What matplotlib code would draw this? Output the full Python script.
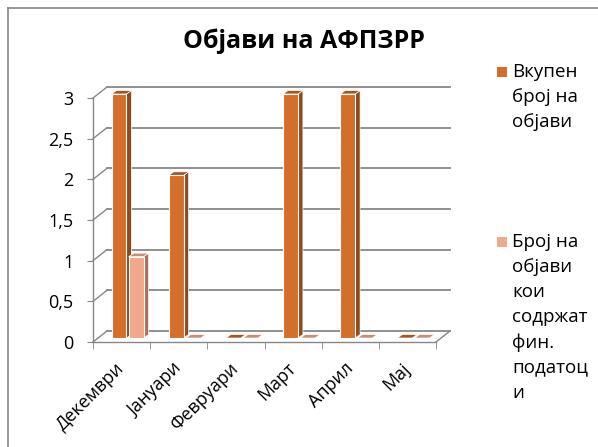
import numpy as np
import matplotlib
matplotlib.use("Agg")
import matplotlib.pyplot as plt
from matplotlib.patches import Polygon, Rectangle
from matplotlib.lines import Line2D

months = ["Декември", "Јануари", "Февруари", "Март", "Април", "Мај"]
total_posts = [3, 2, 0, 3, 3, 0]
fin_posts = [1, 0, 0, 0, 0, 0]
series_labels = ["Вкупен\nброј на\nобјави",
                 "Број на\nобјави\nкои\nсодржат\nфин.\nподатоц\nи"]
y_ticks = [0, 0.5, 1, 1.5, 2, 2.5, 3]
y_tick_labels = ["0", "0,5", "1", "1,5", "2", "2,5", "3"]
title = "Објави на АФПЗРР"

plt.rcParams["font.family"] = ["Open Sans", "DejaVu Sans"]

W, H = 598, 447
fig = plt.figure(figsize=(W / 100, H / 100), dpi=100)
ax = fig.add_axes([93 / W, 105 / H, 343 / W, 244 / H])
ax.set_xlim(-0.5, 5.5)
ax.set_ylim(0, 3)

# pixel -> data units, used for the fake 3d depth
ux = 6 / 343
uy = 3 / 244
wall_dx, wall_dy = 14 * ux, 11 * uy
shift_dx, shift_dy = 6 * ux, 4 * uy
bar_dx, bar_dy = 5 * ux, 3.5 * uy

grid_col = "#878787"

# back wall gridlines + left wall diagonals + floor
for v in y_ticks:
    ax.plot([-0.5 + wall_dx, 5.5 + wall_dx], [v + wall_dy, v + wall_dy],
            color=grid_col, lw=1.3, zorder=1, clip_on=False)
    ax.plot([-0.5, -0.5 + wall_dx], [v, v + wall_dy],
            color=grid_col, lw=1.0, zorder=1, clip_on=False)
ax.plot([5.5, 5.5 + wall_dx], [0, wall_dy], color=grid_col, lw=1.0,
        zorder=1, clip_on=False)

bar_w = 0.26
series = [
    (total_posts, -0.15, ("#D46E2B", "#8E4A1C", "#A9541E")),
    (fin_posts, 0.15, ("#F2A98B", "#A8705C", "#C98B73")),
]
for vals, off, (c_front, c_side, c_top) in series:
    for i, v in enumerate(vals):
        x0 = i + off - bar_w / 2 + shift_dx
        y0 = shift_dy
        x1 = x0 + bar_w
        y1 = y0 + v
        ax.add_patch(Polygon([(x1, y0), (x1 + bar_dx, y0 + bar_dy),
                              (x1 + bar_dx, y1 + bar_dy), (x1, y1)],
                             closed=True, fc=c_side, ec="white", lw=0.5,
                             zorder=3, clip_on=False))
        ax.add_patch(Polygon([(x0, y1), (x1, y1), (x1 + bar_dx, y1 + bar_dy),
                              (x0 + bar_dx, y1 + bar_dy)],
                             closed=True, fc=c_top, ec="white", lw=0.5,
                             zorder=3, clip_on=False))
        if v > 0:
            ax.add_patch(Rectangle((x0, y0), bar_w, v, fc=c_front,
                                   ec="white", lw=0.8, zorder=4,
                                   clip_on=False))

for side in ["top", "right"]:
    ax.spines[side].set_visible(False)
for side in ["left", "bottom"]:
    ax.spines[side].set_color(grid_col)
    ax.spines[side].set_linewidth(1.0)

ax.set_yticks(y_ticks)
ax.set_yticklabels(y_tick_labels, fontsize=13)
ax.tick_params(axis="y", length=4, color=grid_col, pad=10)
ax.set_xticks(range(len(months)))
ax.set_xticklabels(months, fontsize=13, rotation=45, ha="right",
                   va="center", rotation_mode="anchor")
ax.tick_params(axis="x", which="major", length=0, pad=17)
ax.set_xticks(np.arange(-0.5, 6), minor=True)
ax.tick_params(axis="x", which="minor", length=5, color=grid_col)
ax.patch.set_visible(False)

fig.text(304 / W, 1 - 41 / H, title, ha="center", va="center",
         fontsize=18, fontweight="bold")

# legend
leg_cols = ["#D46E2B", "#F2A98B"]
leg_centers = [72, 242]
for lab, col, yc in zip(series_labels, leg_cols, leg_centers):
    fig.patches.append(Rectangle((497 / W, 1 - (yc + 5) / H), 10 / W, 10 / H,
                                 transform=fig.transFigure, fc=col, ec="none"))
    fig.text(512 / W, 1 - (yc - 9) / H, lab, ha="left", va="top",
             fontsize=13.5, linespacing=1.5)

# chart frame
fig.lines.append(Line2D([8 / W, 1], [1 - 8 / H, 1 - 8 / H],
                        transform=fig.transFigure, color=grid_col, lw=1.2))
fig.lines.append(Line2D([8 / W, 8 / W], [0, 1 - 8 / H],
                        transform=fig.transFigure, color=grid_col, lw=1.2))

fig.savefig("out.png", dpi=100)
